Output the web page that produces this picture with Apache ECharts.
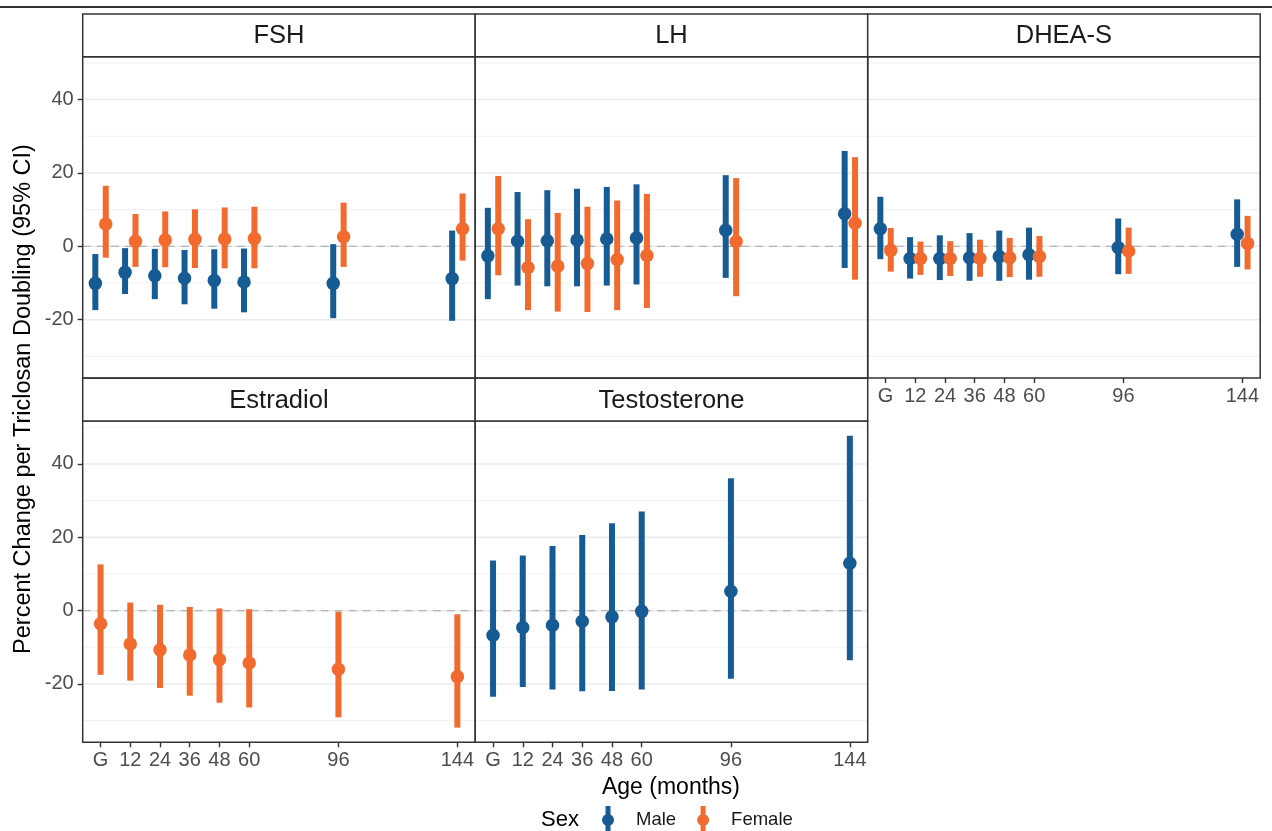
<!DOCTYPE html>
<html>
<head>
<meta charset="utf-8">
<script src="https://cdn.jsdelivr.net/npm/echarts@6/dist/echarts.min.js"></script>
<style>
html,body{margin:0;padding:0;background:#fff;}
#chart{width:1272px;height:831px;}
</style>
</head>
<body>
<div id="chart"></div>
<script>
// ---------- data ----------
const ages = [0, 12, 24, 36, 48, 60, 96, 144];
const ageLabels = ['G', '12', '24', '36', '48', '60', '96', '144'];
const yTicks = [-20, 0, 20, 40];
const yMinor = [-30, -10, 10, 30, 50];
const panelNames = ['FSH', 'LH', 'DHEA-S', 'Estradiol', 'Testosterone'];
const sexNames = ['Male', 'Female'];

const fshMale = [-10.1, -7.1, -8.0, -8.7, -9.3, -9.7, -10.1, -8.8];
const fshMaleLo = [-17.4, -13.0, -14.4, -15.8, -17.0, -18.0, -19.6, -20.3];
const fshMaleHi = [-2.1, -0.5, -0.7, -1.0, -0.8, -0.6, 0.6, 4.3];
const fshFemale = [6.1, 1.4, 1.7, 1.9, 2.0, 2.1, 2.6, 4.8];
const fshFemaleLo = [-3.1, -5.6, -5.7, -5.9, -6.0, -6.0, -5.6, -3.9];
const fshFemaleHi = [16.5, 8.8, 9.5, 10.1, 10.6, 10.8, 11.9, 14.4];

const lhMale = [-2.6, 1.4, 1.5, 1.7, 2.0, 2.3, 4.4, 8.9];
const lhMaleLo = [-14.4, -10.7, -10.9, -10.9, -10.7, -10.4, -8.6, -5.9];
const lhMaleHi = [10.5, 14.8, 15.3, 15.7, 16.2, 16.9, 19.4, 26.0];
const lhFemale = [4.8, -5.8, -5.4, -4.7, -3.6, -2.5, 1.3, 6.3];
const lhFemaleLo = [-7.9, -17.4, -17.8, -17.9, -17.4, -16.8, -13.6, -9.1];
const lhFemaleHi = [19.2, 7.4, 9.1, 10.8, 12.5, 14.3, 18.6, 24.3];

const dheaMale = [4.8, -3.3, -3.3, -3.1, -2.8, -2.3, -0.3, 3.3];
const dheaMaleLo = [-3.5, -8.8, -9.2, -9.4, -9.4, -9.1, -7.6, -5.6];
const dheaMaleHi = [13.5, 2.5, 3.0, 3.6, 4.3, 5.1, 7.6, 12.8];
const dheaFemale = [-1.1, -3.3, -3.3, -3.3, -3.1, -2.8, -1.3, 0.8];
const dheaFemaleLo = [-6.9, -7.8, -8.1, -8.3, -8.4, -8.3, -7.5, -6.3];
const dheaFemaleHi = [5.0, 1.3, 1.4, 1.8, 2.3, 2.8, 5.1, 8.3];

const estFemale = [-3.6, -9.1, -10.7, -12.1, -13.3, -14.3, -16.0, -18.0];
const estFemaleLo = [-17.5, -19.1, -21.1, -23.2, -25.1, -26.4, -29.1, -31.9];
const estFemaleHi = [12.6, 2.2, 1.6, 1.0, 0.6, 0.4, -0.3, -1.0];

const testoMale = [-6.7, -4.6, -4.0, -2.9, -1.7, -0.2, 5.3, 12.9];
const testoMaleLo = [-23.5, -20.8, -21.5, -22.0, -21.9, -21.5, -18.6, -13.5];
const testoMaleHi = [13.7, 15.0, 17.6, 20.6, 23.8, 27.0, 36.1, 47.7];

// ---------- styling / layout ----------
const COLORS = { Male: '#165b94', Female: '#f26a2e' };
const FONT = '"Liberation Sans", Arial, Helvetica, sans-serif';
const X_MIN = -7.2, X_MAX = 151.2;
const Y_MIN = -35.9, Y_MAX = 51.7;
const DODGE = 2.1;

const colLeft = [82.7, 475.2, 867.7];
const panelW = 392.5;
const rowTop = [56.7, 421];
const panelH = 321.3;
const stripH = 42.7;

const panels = [
  { name: panelNames[0], row: 0, col: 0, xLab: false, yLab: true,
    groups: [{ sex: 'Male', est: fshMale, lo: fshMaleLo, hi: fshMaleHi },
             { sex: 'Female', est: fshFemale, lo: fshFemaleLo, hi: fshFemaleHi }] },
  { name: panelNames[1], row: 0, col: 1, xLab: false, yLab: false,
    groups: [{ sex: 'Male', est: lhMale, lo: lhMaleLo, hi: lhMaleHi },
             { sex: 'Female', est: lhFemale, lo: lhFemaleLo, hi: lhFemaleHi }] },
  { name: panelNames[2], row: 0, col: 2, xLab: true, yLab: false,
    groups: [{ sex: 'Male', est: dheaMale, lo: dheaMaleLo, hi: dheaMaleHi },
             { sex: 'Female', est: dheaFemale, lo: dheaFemaleLo, hi: dheaFemaleHi }] },
  { name: panelNames[3], row: 1, col: 0, xLab: true, yLab: true,
    groups: [{ sex: 'Female', est: estFemale, lo: estFemaleLo, hi: estFemaleHi }] },
  { name: panelNames[4], row: 1, col: 1, xLab: true, yLab: false,
    groups: [{ sex: 'Male', est: testoMale, lo: testoMaleLo, hi: testoMaleHi }] }
];

const grids = [], xAxes = [], yAxes = [], series = [], graphics = [];

panels.forEach((p, gi) => {
  const left = colLeft[p.col], top = rowTop[p.row];
  grids.push({ left: left, top: top, width: panelW, height: panelH,
    show: true, borderColor: '#333', borderWidth: 1.5, backgroundColor: 'transparent', z: 5 });
  xAxes.push({
    type: 'value', gridIndex: gi, min: X_MIN, max: X_MAX, position: 'bottom',
    axisLine: { show: false, onZero: false }, splitLine: { show: false },
    axisTick: { show: p.xLab, length: 5, lineStyle: { color: '#333', width: 1.4 }, customValues: ages },
    axisLabel: { show: p.xLab, margin: 8, fontSize: 20, fontFamily: FONT, color: '#4d4d4d',
      customValues: ages, formatter: v => ageLabels[ages.indexOf(v)] }
  });
  yAxes.push({
    type: 'value', gridIndex: gi, min: Y_MIN, max: Y_MAX, position: 'left',
    axisLine: { show: false, onZero: false }, splitLine: { show: false },
    axisTick: { show: p.yLab, length: 5, lineStyle: { color: '#333', width: 1.4 }, customValues: yTicks },
    axisLabel: { show: p.yLab, margin: 9, fontSize: 20, fontFamily: FONT, color: '#4d4d4d',
      customValues: yTicks }
  });

  // gridlines (minor, major) and dashed zero reference
  const hline = (vals, color, width, dash, z) => ({
    type: 'custom', xAxisIndex: gi, yAxisIndex: gi, silent: true, z: z,
    data: vals.map(v => [0, v]), encode: { x: 0, y: 1 },
    renderItem: (params, api) => {
      const cs = params.coordSys;
      const y = api.coord([0, api.value(1)])[1];
      return { type: 'line', shape: { x1: cs.x, y1: y, x2: cs.x + cs.width, y2: y },
        style: { stroke: color, lineWidth: width, lineDash: dash } };
    }
  });
  series.push(hline(yMinor, '#f3f3f3', 1.1, null, 0));
  series.push(hline(yTicks, '#ebebeb', 1.5, null, 0));
  series.push(hline([0], '#b5b5b5', 1.3, [8, 6], 1));

  const n = p.groups.length;
  p.groups.forEach((g, k) => {
    const off = n === 2 ? (k === 0 ? -DODGE : DODGE) : 0;
    const color = COLORS[g.sex];
    series.push({
      type: 'custom', name: g.sex, xAxisIndex: gi, yAxisIndex: gi, z: 2,
      itemStyle: { color: color },
      data: ages.map((a, i) => [a + off, g.lo[i], g.hi[i]]),
      encode: { x: 0, y: [1, 2] },
      renderItem: (params, api) => {
        const x = api.value(0);
        const p1 = api.coord([x, api.value(1)]);
        const p2 = api.coord([x, api.value(2)]);
        return { type: 'line', shape: { x1: p1[0], y1: p1[1], x2: p2[0], y2: p2[1] },
          style: { stroke: color, lineWidth: 6 } };
      }
    });
  });
  p.groups.forEach((g, k) => {
    const off = n === 2 ? (k === 0 ? -DODGE : DODGE) : 0;
    series.push({
      type: 'scatter', name: g.sex, xAxisIndex: gi, yAxisIndex: gi, z: 3,
      symbol: 'circle', symbolSize: 13.5,
      itemStyle: { color: COLORS[g.sex], opacity: 1 },
      data: ages.map((a, i) => [a + off, g.est[i]])
    });
  });

  // strip
  const sTop = top - stripH;
  graphics.push({ type: 'rect', shape: { x: left, y: sTop, width: panelW, height: stripH },
    style: { fill: '#fff', stroke: '#333', lineWidth: 1.5 }, z: 10 });
  graphics.push({ type: 'text', x: left + panelW / 2, y: sTop + stripH / 2 + 1, z: 11,
    style: { text: p.name, fontSize: 25.5, fontFamily: FONT, fill: '#1a1a1a',
      textAlign: 'center', textVerticalAlign: 'middle' } });
});

// top rule
graphics.push({ type: 'line', shape: { x1: 0, y1: 7, x2: 1272, y2: 7 },
  style: { stroke: '#333', lineWidth: 2 }, z: 10 });
// axis titles
graphics.push({ type: 'text', x: 24, y: 399, rotation: Math.PI / 2, z: 11,
  style: { text: 'Percent Change per Triclosan Doubling (95% CI)', fontSize: 23.5, fontFamily: FONT,
    fill: '#000', textAlign: 'center', textVerticalAlign: 'middle' } });
graphics.push({ type: 'text', x: 671, y: 788, z: 11,
  style: { text: 'Age (months)', fontSize: 23, fontFamily: FONT, fill: '#000',
    textAlign: 'center', textVerticalAlign: 'middle' } });
graphics.push({ type: 'text', x: 560, y: 820, z: 11,
  style: { text: 'Sex', fontSize: 22, fontFamily: FONT, fill: '#000',
    textAlign: 'center', textVerticalAlign: 'middle' } });

const legendIcon = 'path://M4.5,0L9.5,0L9.5,28L4.5,28Z M1,14A6,6,0,1,1,13,14A6,6,0,1,1,1,14Z';

const chart = echarts.init(document.getElementById('chart'), null, { renderer: 'canvas' });
chart.setOption({
  animation: false,
  backgroundColor: '#fff',
  grid: grids,
  xAxis: xAxes,
  yAxis: yAxes,
  legend: {
    data: sexNames.map(s => ({ name: s, icon: legendIcon })),
    orient: 'horizontal', left: 602, top: 806, padding: 0,
    itemWidth: 14, itemHeight: 28, itemGap: 21, selectedMode: false,
    textStyle: { fontSize: 18.5, fontFamily: FONT, color: '#1a1a1a', padding: [0, 0, 0, 16] }
  },
  graphic: graphics,
  series: series
});
</script>
</body>
</html>
